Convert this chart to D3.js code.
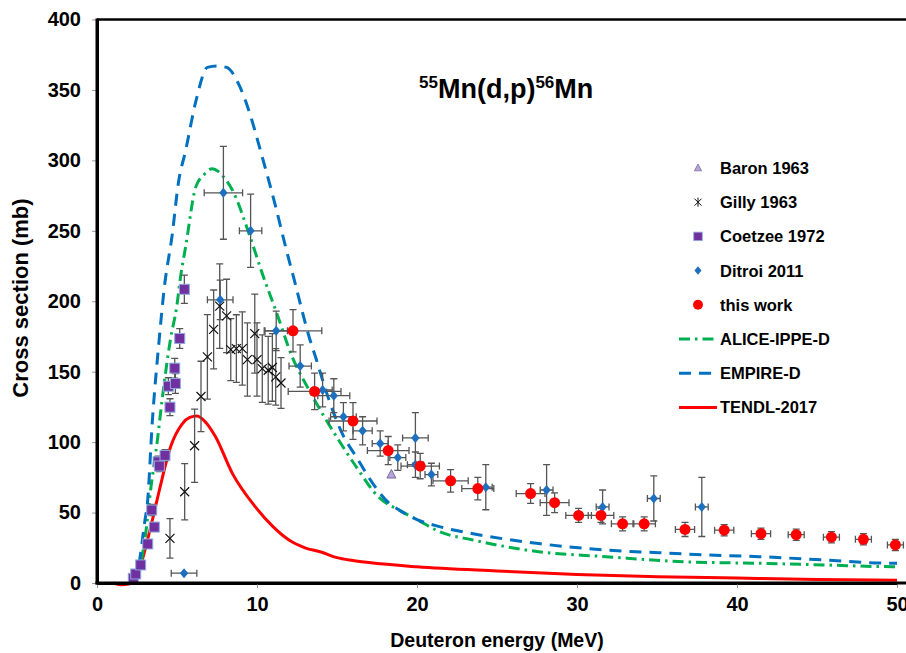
<!DOCTYPE html>
<html>
<head>
<meta charset="utf-8">
<script src="https://cdn.jsdelivr.net/npm/d3@7"></script>
<style>
  body { margin: 0; background: #fff; }
  svg { display: block; font-family: "Liberation Sans", Arial, sans-serif; }
</style>
</head>
<body>
<script>
// ---- data ----
var xTicks = [0, 10, 20, 30, 40, 50];
var yTicks = [0, 50, 100, 150, 200, 250, 300, 350, 400];

// Baron 1963
var baronE = [18.4];
var baronS = [77];

// Gilly 1963
var gillyE = [4.56, 5.48, 6.1, 6.5, 6.9, 7.29, 7.67, 8.1, 8.36, 8.71, 9.08, 9.4, 9.86, 10.0, 10.33, 10.7, 10.96, 11.17, 11.5];
var gillyS = [31.7, 64.8, 97.4, 132.4, 160.5, 180, 196.5, 189.6, 165.7, 166.4, 166.4, 158.6, 177, 158.6, 152.2, 151, 153, 146.3, 142];
var gillyDS = [14, 20, 26, 25, 30, 28, 30, 26, 22, 24, 26, 26, 28, 26, 24, 24, 24, 20, 18];

// Coetzee 1972
var coetE = [2.27, 2.42, 2.73, 3.17, 3.42, 3.58, 3.82, 3.9, 4.25, 4.46, 4.56, 4.86, 4.9, 5.17, 5.46];
var coetS = [3.3, 6.4, 12.8, 27.7, 51.8, 39.7, 86, 83, 90.6, 139.7, 124.8, 152.5, 141.6, 173.6, 208.5];
var coetDS = [1, 1, 2, 3, 4, 3, 4, 4, 4, 6, 6, 7, 7, 7, 10];

// Ditroi 2011
var ditE = [5.44, 7.7, 7.9, 9.6, 11.2, 12.7, 14.1, 14.8, 15.4, 16.6, 17.7, 18.8, 19.9, 19.9, 20.9, 24.3, 28.1, 31.6, 34.8, 37.8];
var ditS = [7, 201, 277, 250, 179, 154, 137, 133, 118, 108, 99, 89, 103, 84, 77, 68, 66, 54, 60, 54];
var ditDE = [0.8, 0.8, 1.2, 0.7, 0.7, 0.7, 0.6, 1.0, 0.8, 0.6, 0.5, 0.5, 0.8, 0.5, 0.4, 0.4, 0.4, 0.4, 0.4, 0.4];
var ditDS = [0, 14, 33, 26, 14, 15, 12, 12, 10, 10, 9, 9, 18, 9, 8, 16, 18, 12, 16, 21];

// this work
var workE = [12.25, 13.6, 16.0, 18.2, 20.2, 22.1, 23.8, 27.1, 28.6, 30.1, 31.5, 32.85, 34.2, 36.75, 39.2, 41.5, 43.7, 45.9, 47.9, 49.9];
var workS = [179, 136, 115, 94, 83, 72.5, 67, 63.5, 57, 48, 48, 42, 42, 38, 37.5, 35, 34.3, 32.5, 31, 27];
var workDE = [1.8, 1.65, 1.5, 1.3, 1.2, 1.1, 1.0, 0.9, 0.9, 0.8, 0.8, 0.7, 0.7, 0.6, 0.6, 0.6, 0.5, 0.5, 0.5, 0.5];
var workDS = [15, 13, 13, 10, 9, 8, 8, 7, 7, 5, 5, 5, 5, 5, 4, 4, 4, 4, 4, 4];

// model curves
var aliceE = [2.4, 2.7, 3.04, 3.35, 3.77, 4.08, 4.6, 4.98, 5.23, 5.54, 6.17, 6.7, 7.2, 7.6, 8.0, 8.46, 9.5, 10.33, 11.17, 12.2, 13.25, 14.1, 15.1, 16.2, 17.6, 19, 20, 21.4, 23.5, 27.6, 31.8, 36.8, 41.4, 45.5, 49.7, 50];
var aliceS = [0, 12, 35, 66, 101, 131, 173.6, 196, 218, 238.7, 281, 290, 294, 292, 287, 279, 248, 219.7, 193.6, 160.5, 137, 120, 101.5, 82.5, 61, 51, 45, 36.4, 30.5, 22.2, 18.7, 15, 14, 12.8, 11.6, 11.6];

var empireE = [2.3, 2.6, 3.0, 3.15, 3.46, 3.88, 4.19, 4.71, 5.08, 5.54, 6.2, 6.9, 7.5, 8.1, 8.9, 9.5, 10.3, 11.17, 11.8, 12.4, 12.8, 13.25, 13.7, 14.1, 14.5, 15.33, 16.2, 17.4, 18.04, 19, 20, 21.4, 23.5, 27.6, 31.8, 35.1, 38, 41.4, 45.5, 49.7, 50];
var empireS = [0, 12, 44.7, 56.5, 115, 172, 208, 248, 283.5, 307, 343, 366, 367, 366, 353, 335, 303.5, 267, 238, 212, 194, 175, 159, 144, 130, 106, 89.6, 68, 59, 51, 45, 40, 35, 28, 23.4, 21.5, 20, 18.7, 16.3, 14, 14];

var tendlE = [1.0, 1.5, 2.0, 2.3, 2.73, 3.1, 3.46, 3.9, 4.6, 5.33, 5.8, 6.25, 6.8, 7.4, 8.46, 9.9, 11, 12, 13, 14, 15, 16, 17, 20, 25, 30, 35, 40, 45, 50];
var tendlS = [0, -1.2, -0.8, 2, 12.8, 28, 44.7, 66, 96.7, 113, 117.5, 118.5, 114, 104, 77.8, 54, 40, 30.5, 25, 22, 18, 16, 14.5, 11.5, 8.5, 6, 4.5, 3.5, 2.5, 2];

var legendNames = ["Baron 1963", "Gilly 1963", "Coetzee 1972", "Ditroi 2011", "this work", "ALICE-IPPE-D", "EMPIRE-D", "TENDL-2017"];

// ---- drawing ----
var width = 906, height = 653;
var svg = d3.select("body").append("svg")
    .attr("width", width)
    .attr("height", height);

var x = d3.scaleLinear().domain([0, 50]).range([97, 897]);
var y = d3.scaleLinear().domain([0, 400]).range([583, 19.5]);

function zip(e, s) {
  return e.map(function(v, i) { return [v, s[i]]; });
}

// curves
var line = d3.line()
    .x(function(d) { return x(d[0]); })
    .y(function(d) { return y(d[1]); })
    .curve(d3.curveMonotoneX);

svg.append("path").datum(zip(tendlE, tendlS))
    .attr("d", line).attr("fill", "none")
    .attr("stroke", "#ff0000").attr("stroke-width", 3);
svg.append("path").datum(zip(aliceE, aliceS))
    .attr("d", line).attr("fill", "none")
    .attr("stroke", "#00b050").attr("stroke-width", 3)
    .attr("stroke-dasharray", "11,5,2.5,5");
svg.append("path").datum(zip(empireE, empireS))
    .attr("d", line).attr("fill", "none")
    .attr("stroke", "#0070c0").attr("stroke-width", 3)
    .attr("stroke-dasharray", "12,8");

// error bars
var eb = svg.append("g").attr("stroke", "#555").attr("stroke-width", 1.3).attr("fill", "none");
var cap = 3.5;
function yErr(e, s, ds) {
  e.forEach(function(v, i) {
    if (!ds[i]) return;
    var cx = x(v), y1 = y(s[i] + ds[i]), y2 = y(s[i] - ds[i]);
    eb.append("path").attr("d", "M" + cx + "," + y1 + "V" + y2 +
      "M" + (cx - cap) + "," + y1 + "H" + (cx + cap) +
      "M" + (cx - cap) + "," + y2 + "H" + (cx + cap));
  });
}
function xErr(e, s, de) {
  e.forEach(function(v, i) {
    if (!de[i]) return;
    var cy = y(s[i]), x1 = x(v - de[i]), x2 = x(v + de[i]);
    eb.append("path").attr("d", "M" + x1 + "," + cy + "H" + x2 +
      "M" + x1 + "," + (cy - cap) + "V" + (cy + cap) +
      "M" + x2 + "," + (cy - cap) + "V" + (cy + cap));
  });
}
yErr(gillyE, gillyS, gillyDS);
yErr(coetE, coetS, coetDS);
yErr(ditE, ditS, ditDS);
xErr(ditE, ditS, ditDE);
yErr(workE, workS, workDS);
xErr(workE, workS, workDE);

// markers
var sym = {
  baron: function(g) {
    g.append("path").attr("d", "M0,-5L4.5,3.5L-4.5,3.5Z")
      .attr("fill", "#b4a7d6").attr("stroke", "#8064a2").attr("stroke-width", 1);
  },
  gilly: function(g) {
    g.append("path").attr("d", "M-4.5,-4.5L4.5,4.5M-4.5,4.5L4.5,-4.5")
      .attr("stroke", "#111").attr("stroke-width", 1.2);
  },
  coet: function(g) {
    g.append("rect").attr("x", -5).attr("y", -5).attr("width", 10).attr("height", 10)
      .attr("fill", "#7030a0").attr("stroke", "#8faadc").attr("stroke-width", 1);
  },
  dit: function(g) {
    g.append("path").attr("d", "M0,-5L4.2,0L0,5L-4.2,0Z").attr("fill", "#1f6fbf");
  },
  work: function(g) {
    g.append("circle").attr("r", 5.5).attr("fill", "#ff0000");
  }
};

function drawPoints(e, s, f) {
  svg.append("g").selectAll("g")
    .data(zip(e, s))
    .enter().append("g")
    .attr("transform", function(d) { return "translate(" + x(d[0]) + "," + y(d[1]) + ")"; })
    .each(function() { f(d3.select(this)); });
}
drawPoints(gillyE, gillyS, sym.gilly);
drawPoints(coetE, coetS, sym.coet);
drawPoints(ditE, ditS, sym.dit);
drawPoints(baronE, baronS, sym.baron);
drawPoints(workE, workS, sym.work);

// axes
var yAxis = svg.append("g").attr("transform", "translate(97,0)")
    .call(d3.axisLeft(y).tickValues(yTicks).tickSize(5).tickPadding(11).tickSizeOuter(0));
var xAxis = svg.append("g").attr("transform", "translate(0,583)")
    .call(d3.axisBottom(x).tickValues(xTicks).tickSize(5).tickPadding(9).tickSizeOuter(0));
[xAxis, yAxis].forEach(function(a) {
  a.select(".domain").attr("stroke", "#000").attr("stroke-width", 3);
  a.selectAll(".tick line").attr("stroke", "#999");
  a.selectAll(".tick text").attr("fill", "#000")
    .style("font-size", "20px").style("font-weight", "bold")
    .style("font-family", "Liberation Sans, Arial, sans-serif");
});
// extend axis lines to the corner
svg.append("line").attr("x1", 95.5).attr("x2", 906).attr("y1", 583).attr("y2", 583)
    .attr("stroke", "#000").attr("stroke-width", 3);
svg.append("line").attr("x1", 97).attr("x2", 97).attr("y1", 18.5).attr("y2", 584.5)
    .attr("stroke", "#000").attr("stroke-width", 3);
// top border
svg.append("line").attr("x1", 97).attr("x2", 906).attr("y1", 19.5).attr("y2", 19.5)
    .attr("stroke", "#000").attr("stroke-width", 2.5);

// axis titles
svg.append("text").attr("x", 497).attr("y", 647).attr("text-anchor", "middle")
    .style("font-size", "19.5px").style("font-weight", "bold")
    .text("Deuteron energy (MeV)");
svg.append("text").attr("transform", "translate(28,298) rotate(-90)")
    .attr("text-anchor", "middle")
    .style("font-size", "22px").style("font-weight", "bold")
    .text("Cross section (mb)");

// title
var title = svg.append("text").attr("x", 419).attr("y", 98)
    .style("font-weight", "bold").style("font-size", "27px");
title.append("tspan").attr("dy", -10).style("font-size", "17px").text("55");
title.append("tspan").attr("dy", 10).text("Mn(d,p)");
title.append("tspan").attr("dy", -10).style("font-size", "17px").text("56");
title.append("tspan").attr("dy", 10).text("Mn");

// legend
var lg = svg.append("g");
var ly0 = 168, ldy = 34.2;
legendNames.forEach(function(name, i) {
  var row = lg.append("g").attr("transform", "translate(0," + (ly0 + i * ldy) + ")");
  if (i === 0) sym.baron(row.append("g").attr("transform", "translate(698,0) scale(0.8)"));
  if (i === 1) {
    var gg = row.append("g").attr("transform", "translate(698,0)");
    gg.append("path").attr("d", "M-3.5,-3.5L3.5,3.5M-3.5,3.5L3.5,-3.5M0,-4.5V4.5")
      .attr("stroke", "#111").attr("stroke-width", 1);
  }
  if (i === 2) sym.coet(row.append("g").attr("transform", "translate(698,0) scale(0.85)"));
  if (i === 3) sym.dit(row.append("g").attr("transform", "translate(698,0) scale(0.85)"));
  if (i === 4) sym.work(row.append("g").attr("transform", "translate(698,0) scale(0.9)"));
  if (i === 5) row.append("line").attr("x1", 679).attr("x2", 717)
      .attr("stroke", "#00b050").attr("stroke-width", 3).attr("stroke-dasharray", "11,5,2.5,5");
  if (i === 6) row.append("line").attr("x1", 679).attr("x2", 717)
      .attr("stroke", "#0070c0").attr("stroke-width", 3).attr("stroke-dasharray", "12,8");
  if (i === 7) row.append("line").attr("x1", 679).attr("x2", 717)
      .attr("stroke", "#ff0000").attr("stroke-width", 3);
  row.append("text").attr("x", 720).attr("y", 6)
    .style("font-size", "16.5px").style("font-weight", "bold")
    .text(name);
});
</script>
</body>
</html>
